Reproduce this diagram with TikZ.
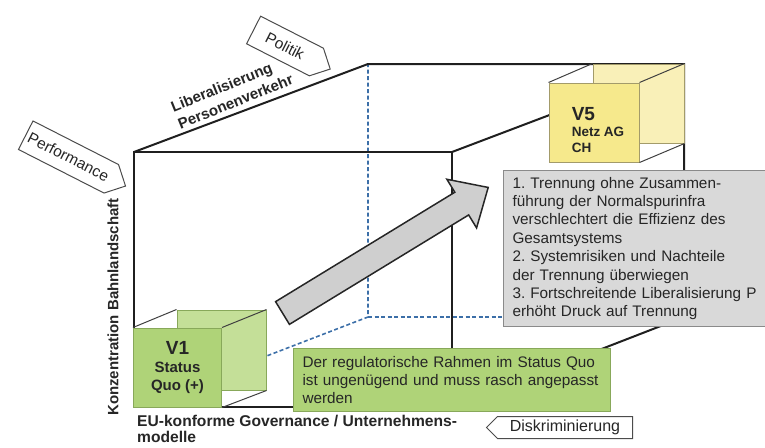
\documentclass[tikz,border=0pt]{standalone}
\usepackage{fontspec}
\setmainfont{Liberation Sans}
\setsansfont{Liberation Sans}
\frenchspacing
\usetikzlibrary{shapes.symbols, calc}
\definecolor{cgreen}{HTML}{AFD378}
\definecolor{cgreenlt}{HTML}{C4DF98}
\definecolor{cgreenedge}{HTML}{88A85A}
\definecolor{cyellow}{HTML}{F6E98C}
\definecolor{cyellowlt}{HTML}{F9F0B8}
\definecolor{cyellowedge}{HTML}{A39B6A}
\definecolor{cgrey}{HTML}{D9D9D9}
\definecolor{cgreyedge}{HTML}{8A8A8A}
\definecolor{carrow}{HTML}{CFCFCF}
\definecolor{cblue}{HTML}{3C6FA8}
\definecolor{ctext}{HTML}{262626}
\tikzset{
  every picture/.style={font=\sffamily},
  edge/.style={draw=black!88, line width=2pt},
  hidden/.style={draw=cblue, line width=1.6pt, dash pattern=on 4pt off 2.5pt},
  face/.style={draw=#1edge, fill=#1, line width=1pt, minimum width=88pt, minimum height=79pt, inner sep=0pt, text=ctext, font=\sffamily\bfseries\fontsize{15}{18}\selectfont},
  backface/.style={draw=#1edge, fill=#1lt, line width=1pt, minimum width=89pt, minimum height=80pt, inner sep=0pt},
  rib/.style={draw=black!75, line width=1pt},
  tag/.style={draw=black!70, fill=white, line width=1pt, shape=signal, signal to=#1, inner sep=0pt, text=ctext, font=\sffamily\fontsize{15.5}{18}\selectfont},
  axis/.style={font=\sffamily\bfseries\fontsize{15}{18.5}\selectfont, text=ctext},
  textbox/.style={draw=#1edge, fill=#1, line width=1pt, align=left, anchor=north west, inner xsep=9pt, text=ctext, font=\sffamily\fontsize{15.3}{18.4}\selectfont},
  bigarrow/.style={draw=black!85, fill=carrow, line width=1.5pt, line join=miter},
}

\begin{document}
\begin{tikzpicture}[x=1pt, y=-1pt]
  \useasboundingbox (0,0) rectangle (765,447);
  % corners of the big cube
  \coordinate (ftl) at (134,152);
  \coordinate (ftr) at (452,152);
  \coordinate (fbl) at (134,407);
  \coordinate (fbr) at (452,407);
  \coordinate (btl) at (368,64);
  \coordinate (btr) at (684,64);
  \coordinate (bbl) at (368,317);
  \coordinate (bbr) at (684,317);
  \draw[hidden] (fbl) -- (bbl) -- (btl);
  \draw[hidden] (bbl) -- (bbr);
  \draw[edge] (fbl) -- (ftl) -- (ftr) -- (fbr) -- cycle;
  \draw[edge] (ftl) -- (btl) -- (btr) -- (bbr) -- (fbr);
  \draw[edge] (ftr) -- (btr);

  % V1 cube
  \node[backface=cgreen] (v1back) at (221.5,350) {};
  \node[face=cgreen, align=center] (v1) at (177.5,367.5) {{\fontsize{19}{20}\selectfont V1}\\Status\\Quo (+)};
  \draw[rib] (v1.north west) -- (v1back.north west);
  \draw[rib] (v1.north east) -- (v1back.north east);
  \draw[rib] (v1.south east) -- (v1back.south east);

  % V5 cube
  \node[backface=cyellow, minimum width=91pt, minimum height=79pt] (v5back) at (638.5,103.5) {};
  \node[face=cyellow, minimum width=90pt, align=left, font=\sffamily\bfseries\fontsize{13.5}{16}\selectfont] (v5) at (594,122.5)
    {\rule{0pt}{28pt}\hspace*{8pt}{\fontsize{19}{19}\selectfont V5}\\\hspace*{8pt}Netz AG\\\hspace*{8pt}CH};
  \draw[rib] (v5.north west) -- (v5back.north west);
  \draw[rib] (v5.north east) -- (v5back.north east);
  \draw[rib] (v5.south east) -- (v5back.south east);

  % trend arrow
  \begin{scope}[shift={(282.5,313)}, rotate=31.4]
    \draw[bigarrow] (0,-13.3) -- (210,-13.3) -- (210,-28.5) -- (241,0) -- (210,28.5) -- (210,13.3) -- (0,13.3) -- cycle;
  \end{scope}

  % text boxes
  \node[textbox=cgrey, minimum width=280pt, minimum height=156pt, text width=262pt] (notes) at (503,170)
    {1. Trennung ohne Zusammen-\\führung der Normalspurinfra\\verschlechtert die Effizienz des\\Gesamtsystems\\2. Systemrisiken und Nachteile\\der Trennung überwiegen\\3. Fortschreitende Liberalisierung P\\erhöht Druck auf Trennung};
  \node[textbox=cgreen, minimum width=317pt, minimum height=63pt, text width=299pt] (rahmen) at (293,348)
    {Der regulatorische Rahmen im Status Quo\\ist ungenügend und muss rasch angepasst\\werden};

  % tags
  \node[tag=east, minimum width=112pt, minimum height=32pt, rotate=-27] (perf) at (68.5,157) {Performance};
  \node[tag=east, minimum width=86pt, minimum height=31pt, rotate=-27] (pol) at (285,46) {Politik};
  \node[tag=west, minimum width=146pt, minimum height=22pt, font=\sffamily\fontsize{16}{18}\selectfont] (disk) at (565,427.5) {Diskriminierung};

  % axis labels
  \node[axis, rotate=22, align=left] (libp) at (232,93) {Liberalisierung\\Personenverkehr};
  \node[axis, rotate=90] (konz) at (113,307) {Konzentration Bahnlandschaft};
  \node[axis, align=left, anchor=north west, inner sep=0pt, font=\sffamily\bfseries\fontsize{15.6}{16.5}\selectfont] (eu) at (137,414.5) {EU-konforme Governance / Unternehmens-\\modelle};
\end{tikzpicture}
\end{document}
